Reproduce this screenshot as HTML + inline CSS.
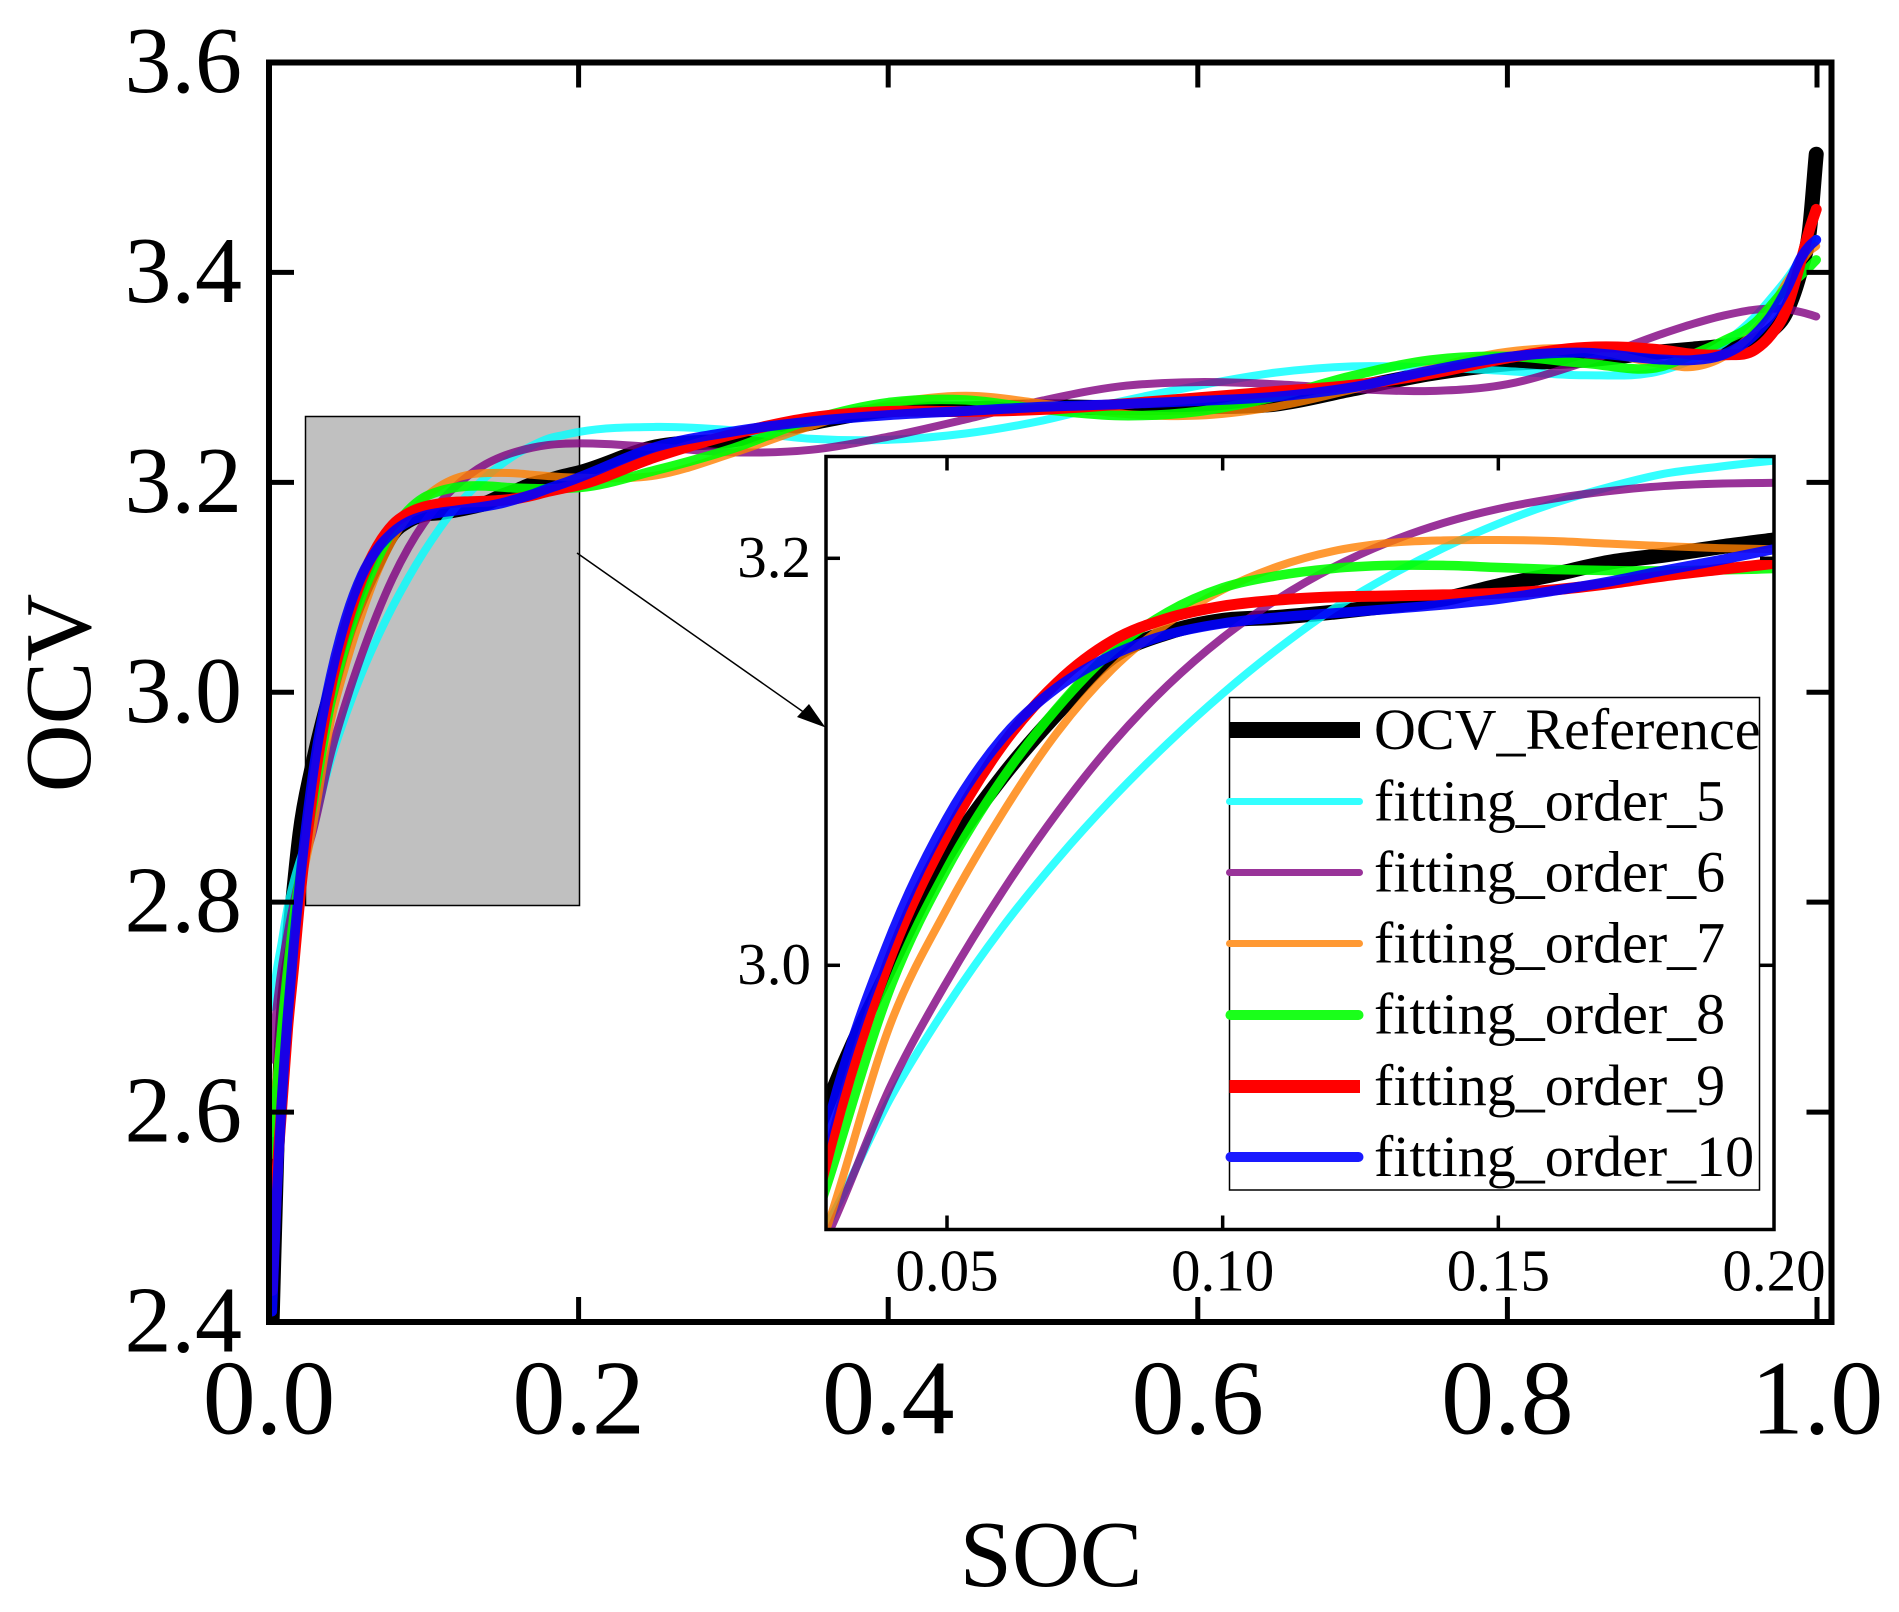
<!DOCTYPE html>
<html lang="en">
<head>
<meta charset="utf-8">
<title>OCV vs SOC fitting orders</title>
<style>
  html, body { margin: 0; padding: 0; background: #fff; width: 1899px; height: 1612px; overflow: hidden; }
  svg { display: block; font-family: "Liberation Serif", serif; fill: #000; }
</style>
</head>
<body>
<svg id="chart" xmlns="http://www.w3.org/2000/svg" width="1899" height="1612" viewBox="0 0 1899 1612">
  <defs>
    <clipPath id="main-clip"><rect x="269" y="62.5" width="1562.5" height="1259.5"/></clipPath>
    <clipPath id="inset-clip"><rect x="826" y="456.5" width="948" height="773"/></clipPath>
  </defs>
  <rect x="0" y="0" width="1899" height="1612" fill="#fff"/>
  <rect x="305.5" y="416.5" width="274" height="489" fill="#c0c0c0" stroke="#000" stroke-width="1.5"/>
  <g id="main-series" clip-path="url(#main-clip)"></g>
  <rect x="269" y="62.5" width="1562.5" height="1259.5" fill="none" stroke="#000" stroke-width="6"/>
  <g id="main-axes"></g>
  <text x="1051" y="1586" font-size="94" text-anchor="middle">SOC</text>
  <text transform="translate(90 693) rotate(-90)" font-size="94" text-anchor="middle">OCV</text>

  <rect x="826" y="456.5" width="948" height="773" fill="#fff"/>
  <g id="inset-series" clip-path="url(#inset-clip)"></g>
  <rect x="826" y="456.5" width="948" height="773" fill="none" stroke="#000" stroke-width="3.5"/>
  <g id="inset-axes"></g>

  <line x1="577" y1="553" x2="812" y2="718" stroke="#000" stroke-width="1.5"/>
  <polygon points="825.5,727.5 797,717 809,704" fill="#000"/>

  <g>
    <rect x="1229.5" y="697.5" width="530" height="492.5" fill="#fff" stroke="#000" stroke-width="1.5"/>
    <g>
      <line x1="1229.5" y1="730" x2="1360" y2="730" stroke="#000" stroke-width="16"/>
      <text x="1374" y="749" font-size="58">OCV_Reference</text>
    </g>
    <g>
      <line x1="1229.5" y1="801.5" x2="1359.5" y2="801.5" stroke="#33ffff" stroke-width="7" stroke-linecap="round"/>
      <text x="1374" y="820.5" font-size="58">fitting_order_5</text>
    </g>
    <g>
      <line x1="1229.5" y1="872.5" x2="1359.5" y2="872.5" stroke="#993399" stroke-width="7" stroke-linecap="round"/>
      <text x="1374" y="891.5" font-size="58">fitting_order_6</text>
    </g>
    <g>
      <line x1="1229.5" y1="943.5" x2="1359.5" y2="943.5" stroke="#ff9933" stroke-width="7" stroke-linecap="round"/>
      <text x="1374" y="962.5" font-size="58">fitting_order_7</text>
    </g>
    <g>
      <line x1="1230.5" y1="1015" x2="1358.5" y2="1015" stroke="#1aff1a" stroke-width="10" stroke-linecap="round"/>
      <text x="1374" y="1033.5" font-size="58">fitting_order_8</text>
    </g>
    <g>
      <line x1="1229.5" y1="1086.5" x2="1360" y2="1086.5" stroke="#ff0000" stroke-width="13"/>
      <text x="1374" y="1105" font-size="58">fitting_order_9</text>
    </g>
    <g>
      <line x1="1230.5" y1="1157" x2="1358.5" y2="1157" stroke="#1a1aff" stroke-width="10" stroke-linecap="round"/>
      <text x="1374" y="1176" font-size="58">fitting_order_10</text>
    </g>
  </g>
</svg>
<script>
// ---- chart data ----
const soc = [0.002,0.005,0.008,0.012,0.016,0.02,0.0281,0.04,0.05,0.06,0.07,0.08,0.09,0.10,0.11,0.12,0.13,0.14,0.15,0.16,0.17,0.18,0.19,0.20,0.25,0.30,0.35,0.40,0.45,0.50,0.55,0.60,0.65,0.70,0.75,0.80,0.85,0.90,0.92,0.94,0.96,0.97,0.98,0.99,0.995,0.9995];
const ocvReference = [2.40,2.56,2.66,2.745,2.81,2.865,2.93,3.001,3.054,3.0925,3.124,3.1515,3.1635,3.1695,3.171,3.1735,3.1765,3.18,3.1865,3.192,3.198,3.2015,3.2055,3.209,3.2338,3.2405,3.2565,3.269,3.27,3.272,3.271,3.272,3.2745,3.289,3.3035,3.313,3.3165,3.3245,3.327,3.33,3.335,3.344,3.362,3.405,3.438,3.5126];
const fittingOrder5 = [2.70,2.735,2.76,2.795,2.82,2.84,2.872,2.936,2.98,3.0185,3.052,3.082,3.109,3.1335,3.1555,3.175,3.191,3.205,3.217,3.227,3.235,3.2415,3.245,3.248,3.2528,3.2495,3.2415,3.2405,3.2465,3.259,3.277,3.292,3.3045,3.3105,3.3095,3.306,3.302,3.3065,3.317,3.333,3.358,3.375,3.393,3.414,3.424,3.432];
const fittingOrder6 = [2.65,2.70,2.735,2.77,2.80,2.825,2.866,2.942,2.992,3.036,3.075,3.109,3.1375,3.161,3.18,3.1955,3.2078,3.2173,3.2243,3.2293,3.233,3.2355,3.2367,3.2371,3.2335,3.2285,3.231,3.2435,3.26,3.278,3.2915,3.2955,3.2935,3.289,3.287,3.2935,3.3145,3.3415,3.351,3.359,3.3645,3.3655,3.365,3.362,3.36,3.358];
const fittingOrder7 = [2.58,2.635,2.68,2.73,2.775,2.81,2.87,2.973,3.028,3.0745,3.1145,3.1455,3.168,3.1845,3.196,3.2035,3.2075,3.2088,3.209,3.2085,3.2072,3.206,3.205,3.2045,3.2066,3.228,3.2535,3.2745,3.2825,3.275,3.2655,3.2635,3.272,3.2885,3.3085,3.3245,3.327,3.3125,3.31,3.32,3.345,3.365,3.39,3.41,3.42,3.425];
const fittingOrder8 = [2.56,2.62,2.675,2.735,2.785,2.825,2.891,2.991,3.0475,3.0915,3.1265,3.1545,3.1735,3.1855,3.1915,3.195,3.1965,3.1965,3.1955,3.1945,3.194,3.1938,3.1943,3.195,3.2116,3.2325,3.2595,3.276,3.2785,3.2695,3.2635,3.2675,3.2815,3.3015,3.3165,3.32,3.3135,3.3105,3.322,3.335,3.352,3.368,3.385,3.398,3.405,3.412];
const fittingOrder9 = [2.43,2.535,2.60,2.68,2.74,2.805,2.903,3.006,3.064,3.108,3.139,3.1595,3.1705,3.1765,3.1795,3.181,3.1815,3.182,3.1828,3.1845,3.1875,3.1913,3.1945,3.1975,3.2243,3.246,3.2615,3.2675,3.2675,3.2695,3.2745,3.2805,3.2865,3.2925,3.3035,3.3185,3.3285,3.326,3.322,3.3215,3.3265,3.34,3.364,3.413,3.44,3.46];
const fittingOrder10 = [2.41,2.52,2.605,2.69,2.76,2.82,2.919,3.0155,3.072,3.1115,3.1365,3.1525,3.1625,3.168,3.171,3.173,3.175,3.1772,3.18,3.184,3.1885,3.194,3.199,3.2045,3.2338,3.2485,3.258,3.264,3.268,3.272,3.2745,3.2775,3.2815,3.2905,3.3065,3.3195,3.3235,3.317,3.3165,3.322,3.341,3.358,3.383,3.415,3.425,3.431];

const mainXTicks = [0.0,0.2,0.4,0.6,0.8,1.0];
const mainYTicks = [2.4,2.6,2.8,3.0,3.2,3.4,3.6];
const insetXTicks = [0.05,0.10,0.15,0.20];
const insetYTicks = [3.0,3.2];

// ---- axis functions ----
function linearScale(d0, d1, r0, r1) {
  return function (v) { return r0 + (v - d0) * (r1 - r0) / (d1 - d0); };
}
const mainX = linearScale(0, 1, 269, 1817);
const mainY = linearScale(2.4, 3.6, 1322, 62.5);
const insetX = linearScale(0.05, 0.20, 947, 1774);
const insetY = linearScale(3.0, 3.2, 965.3, 558.3);

// ---- drawing helpers ----
const SVGNS = 'http://www.w3.org/2000/svg';

// Smooth path through the knots; only the segments between socMin and socMax are emitted.
function smoothPath(xs, ys, socMin, socMax) {
  const n = xs.length;
  const d = [];
  const m = new Array(n);
  for (let i = 0; i < n - 1; i++) d.push((ys[i + 1] - ys[i]) / (xs[i + 1] - xs[i]));
  m[0] = d[0];
  m[n - 1] = d[n - 2];
  for (let i = 1; i < n - 1; i++) {
    const h0 = xs[i] - xs[i - 1];
    const h1 = xs[i + 1] - xs[i];
    m[i] = (h1 * d[i - 1] + h0 * d[i]) / (h0 + h1);
  }
  let first = 0;
  let last = n - 1;
  for (let i = 0; i < n; i++) {
    if (soc[i] < socMin) first = i;
    if (soc[i] > socMax) { last = i - 1; break; }
  }
  let p = 'M' + xs[first].toFixed(2) + ' ' + ys[first].toFixed(2);
  for (let i = first; i < last; i++) {
    const h = (xs[i + 1] - xs[i]) / 3;
    p += 'C' + (xs[i] + h).toFixed(2) + ' ' + (ys[i] + m[i] * h).toFixed(2) + ' ' +
         (xs[i + 1] - h).toFixed(2) + ' ' + (ys[i + 1] - m[i + 1] * h).toFixed(2) + ' ' +
         xs[i + 1].toFixed(2) + ' ' + ys[i + 1].toFixed(2);
  }
  return p;
}

function drawSeries(group, prefix, values, name, color, opacity, width, sx, sy, socMin, socMax) {
  const el = document.createElementNS(SVGNS, 'path');
  
  
  el.setAttribute('d', smoothPath(soc.map(sx), values.map(sy), socMin, socMax));
  el.setAttribute('fill', 'none');
  el.setAttribute('stroke', color);
  el.setAttribute('stroke-opacity', opacity);
  el.setAttribute('stroke-width', width);
  el.setAttribute('stroke-linecap', 'round');
  el.setAttribute('stroke-linejoin', 'round');
  group.appendChild(el);
}

function drawSet(groupId, prefix, sx, sy, socMin, socMax) {
  const g = document.getElementById(groupId);
  drawSeries(g, prefix, ocvReference, 'ocv-reference', '#000000', 1, 15, sx, sy, socMin, socMax);
  drawSeries(g, prefix, fittingOrder5, 'order-5', '#00ffff', 0.8, 8, sx, sy, socMin, socMax);
  drawSeries(g, prefix, fittingOrder6, 'order-6', '#800080', 0.8, 8, sx, sy, socMin, socMax);
  drawSeries(g, prefix, fittingOrder7, 'order-7', '#ff8000', 0.8, 8, sx, sy, socMin, socMax);
  drawSeries(g, prefix, fittingOrder8, 'order-8', '#00ff00', 0.9, 9.5, sx, sy, socMin, socMax);
  drawSeries(g, prefix, fittingOrder9, 'order-9', '#ff0000', 1, 11, sx, sy, socMin, socMax);
  drawSeries(g, prefix, fittingOrder10, 'order-10', '#0000ff', 0.9, 10, sx, sy, socMin, socMax);
}

function addTick(group, name, x1, y1, x2, y2, width) {
  const el = document.createElementNS(SVGNS, 'line');
  
  
  el.setAttribute('x1', x1);
  el.setAttribute('y1', y1);
  el.setAttribute('x2', x2);
  el.setAttribute('y2', y2);
  el.setAttribute('stroke', '#000');
  el.setAttribute('stroke-width', width);
  group.appendChild(el);
}

function addLabel(group, name, x, y, size, anchor, content) {
  const el = document.createElementNS(SVGNS, 'text');
  
  
  el.setAttribute('x', x);
  el.setAttribute('y', y);
  el.setAttribute('font-size', size);
  el.setAttribute('text-anchor', anchor);
  el.textContent = content;
  group.appendChild(el);
}

function drawMainAxes() {
  const g = document.getElementById('main-axes');
  const top = 62.5, bottom = 1322, left = 269, right = 1831.5, len = 25;
  mainXTicks.forEach(function (t) {
    const x = mainX(t);
    if (t > 0) {
      addTick(g, 'x-tick-bottom-' + t.toFixed(1), x, bottom, x, bottom - len, 5);
      addTick(g, 'x-tick-top-' + t.toFixed(1), x, top, x, top + len, 5);
    }
    addLabel(g, 'x-tick-label-' + t.toFixed(1), x, 1433.5, 106, 'middle', t.toFixed(1));
  });
  mainYTicks.forEach(function (t) {
    const y = mainY(t);
    if (t > 2.4 && t < 3.6) {
      addTick(g, 'y-tick-left-' + t.toFixed(1), left, y, left + len, y, 5);
      addTick(g, 'y-tick-right-' + t.toFixed(1), right, y, right - len, y, 5);
    }
    addLabel(g, 'y-tick-label-' + t.toFixed(1), 242, y + 29.5, 94, 'end', t.toFixed(1));
  });
}

function drawInsetAxes() {
  const g = document.getElementById('inset-axes');
  const top = 456.5, bottom = 1229.5, left = 826, right = 1774, len = 14;
  insetXTicks.forEach(function (t) {
    const x = insetX(t);
    if (t < 0.2) {
      addTick(g, 'inset-x-tick-bottom-' + t.toFixed(2), x, bottom, x, bottom - len, 3.5);
      addTick(g, 'inset-x-tick-top-' + t.toFixed(2), x, top, x, top + len, 3.5);
    }
    addLabel(g, 'inset-x-tick-label-' + t.toFixed(2), x, 1290.5, 59, 'middle', t.toFixed(2));
  });
  insetYTicks.forEach(function (t) {
    const y = insetY(t);
    addTick(g, 'inset-y-tick-left-' + t.toFixed(1), left, y, left + len, y, 3.5);
    addTick(g, 'inset-y-tick-right-' + t.toFixed(1), right, y, right - len, y, 3.5);
    addLabel(g, 'inset-y-tick-label-' + t.toFixed(1), 811, y + 18.5, 59, 'end', t.toFixed(1));
  });
}

drawSet('main-series', 'main', mainX, mainY, 0, 1);
drawSet('inset-series', 'inset', insetX, insetY, 0.028, 0.20);
drawMainAxes();
drawInsetAxes();
</script>
</body>
</html>
